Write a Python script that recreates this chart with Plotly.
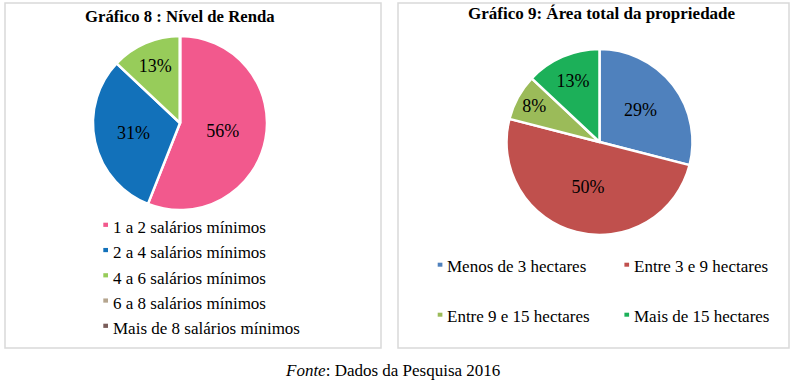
import plotly.graph_objects as go

W, H = 795, 380

# ---------------- Data ----------------
renda_labels = ["1 a 2 salários mínimos", "2 a 4 salários mínimos", "4 a 6 salários mínimos",
                "6 a 8 salários mínimos", "Mais de 8 salários mínimos"]
renda_values = [56, 31, 13, 0, 0]
renda_colors = ["#F2598D", "#1271BA", "#97CC5A", "#B5A58E", "#7A5D5A"]

area_labels = ["Menos de 3 hectares", "Entre 3 e 9 hectares", "Entre 9 e 15 hectares", "Mais de 15 hectares"]
area_values = [29, 50, 8, 13]
area_colors = ["#4F81BD", "#C0504D", "#9BBB59", "#1CB059"]

title_left = "Gráfico 8 : Nível de Renda"
title_right = "Gráfico 9: Área total da propriedade"
footer = "<i>Fonte</i>: Dados da Pesquisa 2016"

FONT = "Liberation Serif, Times New Roman, serif"


def px_x(x):
    return x / W


def px_y(y):
    return 1 - y / H


fig = go.Figure()

fig.add_trace(go.Pie(
    labels=renda_labels, values=renda_values, sort=False, direction="clockwise",
    marker=dict(colors=renda_colors, line=dict(color="white", width=2.5)),
    textinfo="percent", textposition="inside", insidetextorientation="horizontal",
    textfont=dict(family=FONT, size=18, color="black"),
    domain=dict(x=[px_x(93), px_x(267)], y=[px_y(210), px_y(36)]),
    showlegend=False, hoverinfo="skip",
))

fig.add_trace(go.Pie(
    labels=area_labels, values=area_values, sort=False, direction="clockwise",
    marker=dict(colors=area_colors, line=dict(color="white", width=2.5)),
    textinfo="percent", textposition="inside", insidetextorientation="horizontal",
    textfont=dict(family=FONT, size=18, color="black"),
    domain=dict(x=[px_x(506), px_x(693)], y=[px_y(235), px_y(49)]),
    showlegend=False, hoverinfo="skip",
))

shapes = [
    dict(type="rect", xref="paper", yref="paper", x0=px_x(5), x1=px_x(381), y0=px_y(348), y1=px_y(3),
         line=dict(color="#D9D9D9", width=1.5)),
    dict(type="rect", xref="paper", yref="paper", x0=px_x(398), x1=px_x(789), y0=px_y(348), y1=px_y(3),
         line=dict(color="#D9D9D9", width=1.5)),
]

annotations = [
    dict(text=f"<b>{title_left}</b>", x=px_x(180), y=px_y(16.5), xref="paper", yref="paper",
         showarrow=False, font=dict(family=FONT, size=16.7, color="black"), xanchor="center", yanchor="middle"),
    dict(text=f"<b>{title_right}</b>", x=px_x(602), y=px_y(13.5), xref="paper", yref="paper",
         showarrow=False, font=dict(family=FONT, size=17, color="black"), xanchor="center", yanchor="middle"),
    dict(text=footer, x=px_x(392), y=px_y(370.5), xref="paper", yref="paper",
         showarrow=False, font=dict(family=FONT, size=17, color="black"), xanchor="center", yanchor="middle"),
]

LEG_FONT = dict(family=FONT, size=17, color="black")


def legend_item(label, color, text_x, baseline, sw_x, sw_top, sw_bottom):
    annotations.append(dict(text=label, x=px_x(text_x), y=px_y(baseline - 5.7), xref="paper", yref="paper",
                            showarrow=False, font=LEG_FONT, xanchor="left", yanchor="middle",
                            borderpad=0, borderwidth=0))
    shapes.append(dict(type="rect", xref="paper", yref="paper",
                       x0=px_x(sw_x), x1=px_x(sw_x + 4.7), y0=px_y(baseline - sw_bottom), y1=px_y(baseline - sw_top),
                       fillcolor=color, line=dict(width=0)))


# Legend of Gráfico 8 (one column)
for i, (lab, col) in enumerate(zip(renda_labels, renda_colors)):
    legend_item(lab, col, 112.5, 233.3 + i * 25.25, 103.3, 10.6, 6.4)

# Legend of Gráfico 9 (two columns, two rows)
col_text_x = [447, 633.5]
col_sw_x = [437.7, 624.4]
row_base = [271.7, 321.7]
for i, (lab, col) in enumerate(zip(area_labels, area_colors)):
    r, c = divmod(i, 2)
    legend_item(lab, col, col_text_x[c], row_base[r], col_sw_x[c], 9.0, 5.0)

fig.update_layout(
    width=W, height=H, margin=dict(l=0, r=0, t=0, b=0),
    paper_bgcolor="white", plot_bgcolor="white",
    shapes=shapes, annotations=annotations, showlegend=False,
)

fig.write_html("out.html", config={"displayModeBar": False},
               post_script="document.body.style.margin='0';document.body.style.overflow='hidden';")
